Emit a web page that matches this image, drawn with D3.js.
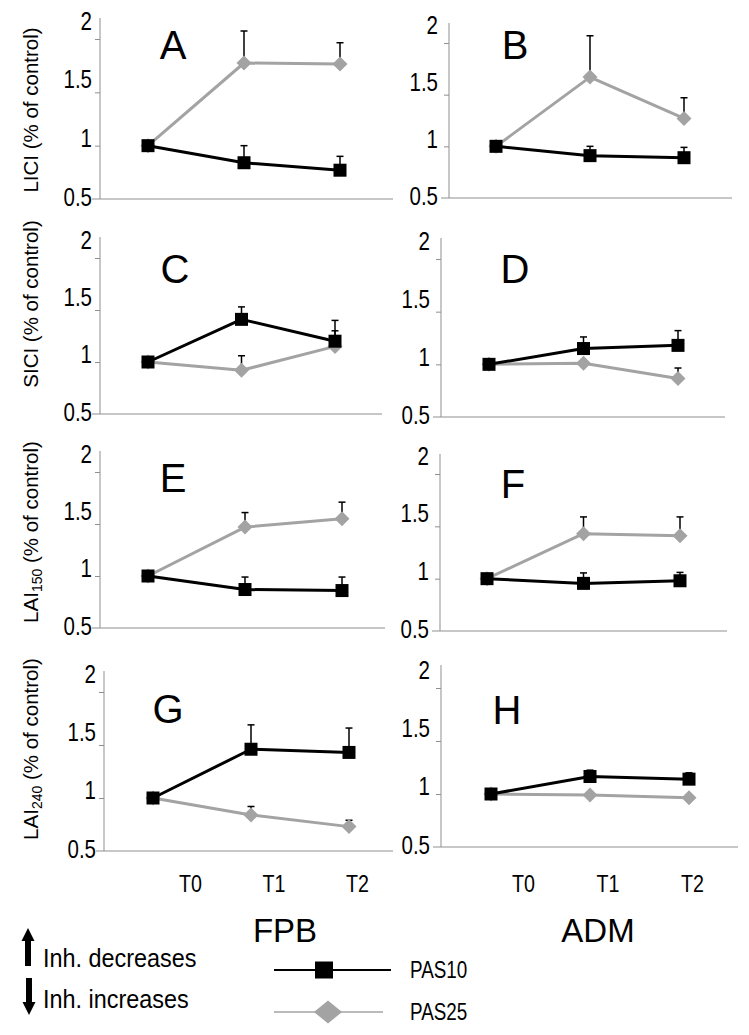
<!DOCTYPE html>
<html>
<head>
<meta charset="utf-8">
<script src="https://cdn.jsdelivr.net/npm/d3@7"></script>
<style>
  html, body { margin: 0; padding: 0; background: #fff; }
  svg { display: block; font-family: "Liberation Sans", Arial, sans-serif; }
</style>
</head>
<body>
<svg id="chart" width="749" height="1035"></svg>
<script>
// ---------------- DATA ----------------
const timepoints = ["T0", "T1", "T2"];
const panelLetters = ["A", "B", "C", "D", "E", "F", "G", "H"];
const yTickValues = [0.5, 1, 1.5, 2];
const yTickLabels = ["0.5", "1", "1.5", "2"];
const muscles = ["FPB", "ADM"];
const seriesNames = ["PAS10", "PAS25"];
const rowMeasures = ["LICI", "SICI", "LAI150", "LAI240"];

// PAS10 (black squares): means and SEM (upward error bars)
const pas10_A = [1.00, 0.84, 0.77];  const pas10_A_sem = [0.02, 0.16, 0.13];
const pas10_B = [1.00, 0.91, 0.89];  const pas10_B_sem = [0.02, 0.09, 0.10];
const pas10_C = [1.00, 1.41, 1.20];  const pas10_C_sem = [0.04, 0.12, 0.20];
const pas10_D = [1.00, 1.15, 1.18];  const pas10_D_sem = [0.03, 0.11, 0.14];
const pas10_E = [1.00, 0.87, 0.86];  const pas10_E_sem = [0.03, 0.12, 0.13];
const pas10_F = [1.00, 0.955, 0.98]; const pas10_F_sem = [0.02, 0.10, 0.08];
const pas10_G = [1.00, 1.46, 1.43];  const pas10_G_sem = [0.03, 0.23, 0.23];
const pas10_H = [1.00, 1.165, 1.14]; const pas10_H_sem = [0.03, 0.06, 0.06];

// PAS25 (grey diamonds)
const pas25_A = [1.00, 1.775, 1.765]; const pas25_A_sem = [0.02, 0.30, 0.20];
const pas25_B = [1.00, 1.67, 1.27];   const pas25_B_sem = [0.02, 0.40, 0.20];
const pas25_C = [1.00, 0.92, 1.15];   const pas25_C_sem = [0.03, 0.14, 0.15];
const pas25_D = [1.00, 1.01, 0.865];  const pas25_D_sem = [0.02, 0.02, 0.10];
const pas25_E = [1.00, 1.47, 1.55];   const pas25_E_sem = [0.02, 0.14, 0.16];
const pas25_F = [1.00, 1.43, 1.41];   const pas25_F_sem = [0.02, 0.16, 0.18];
const pas25_G = [1.00, 0.84, 0.73];   const pas25_G_sem = [0.02, 0.08, 0.06];
const pas25_H = [1.00, 0.99, 0.965];  const pas25_H_sem = [0.01, 0.02, 0.02];

const pas10 = { A: pas10_A, B: pas10_B, C: pas10_C, D: pas10_D, E: pas10_E, F: pas10_F, G: pas10_G, H: pas10_H };
const pas10Sem = { A: pas10_A_sem, B: pas10_B_sem, C: pas10_C_sem, D: pas10_D_sem, E: pas10_E_sem, F: pas10_F_sem, G: pas10_G_sem, H: pas10_H_sem };
const pas25 = { A: pas25_A, B: pas25_B, C: pas25_C, D: pas25_D, E: pas25_E, F: pas25_F, G: pas25_G, H: pas25_H };
const pas25Sem = { A: pas25_A_sem, B: pas25_B_sem, C: pas25_C_sem, D: pas25_D_sem, E: pas25_E_sem, F: pas25_F_sem, G: pas25_G_sem, H: pas25_H_sem };

// ---------------- LAYOUT ----------------
const layout = {
  A: { ax: 100, top: 18,  y2: 39,  y05: 199, xr: 393, p0: 148, p2: 340, lx: 173, ly: 59 },
  B: { ax: 449, top: 23,  y2: 43,  y05: 198, xr: 732, p0: 496, p2: 684, lx: 515, ly: 59 },
  C: { ax: 100, top: 237, y2: 258, y05: 414, xr: 382, p0: 148, p2: 335, lx: 175, ly: 283 },
  D: { ax: 441, top: 238, y2: 259, y05: 417, xr: 725, p0: 489, p2: 678, lx: 515, ly: 283 },
  E: { ax: 100, top: 451, y2: 472, y05: 628, xr: 385, p0: 148, p2: 342, lx: 173, ly: 492 },
  F: { ax: 440, top: 454, y2: 474, y05: 631, xr: 727, p0: 487, p2: 680, lx: 513, ly: 498 },
  G: { ax: 104, top: 671, y2: 692, y05: 851, xr: 393, p0: 153, p2: 349, lx: 168, ly: 723 },
  H: { ax: 441, top: 665, y2: 688, y05: 847, xr: 738, p0: 491, p2: 689, lx: 507, ly: 724 }
};
const GREY = "#a3a3a3";
const AXIS = "#8f8f8f";
const NARROW = 0.82;

const svg = d3.select("#chart");

function narrowText(parent, x, y, str, size, anchor, sx) {
  const g = parent.append("g").attr("transform", `translate(${x},${y}) scale(${sx},1)`);
  return g.append("text").attr("x", 0).attr("y", 0)
    .attr("font-size", size).attr("text-anchor", anchor || "start")
    .attr("fill", "#000").text(str);
}

panelLetters.forEach((id, i) => {
  const L = layout[id];
  const g = svg.append("g");
  const x = d3.scalePoint().domain(timepoints).range([L.p0, L.p2]);
  const y = d3.scaleLinear().domain([0.5, 2]).range([L.y05, L.y2]);
  const yLab = d3.scaleLinear().domain([0.5, 2]).range([L.y05 - 3, L.y2 - 19]);

  // y axis line
  g.append("line").attr("x1", L.ax).attr("x2", L.ax).attr("y1", L.top).attr("y2", L.y05)
    .attr("stroke", AXIS).attr("stroke-width", 1);
  // x axis line
  g.append("line").attr("x1", L.ax - 8).attr("x2", L.xr).attr("y1", L.y05).attr("y2", L.y05)
    .attr("stroke", AXIS).attr("stroke-width", 1);

  // tick marks
  const tickAxis = g.append("g").attr("transform", `translate(${L.ax},0)`)
    .call(d3.axisLeft(y).tickValues([1, 1.5, 2]).tickSize(5).tickFormat(""));
  tickAxis.select(".domain").remove();
  tickAxis.selectAll("line").attr("stroke", AXIS);

  // tick labels
  const off = (i % 2 === 0) ? 8 : 11;
  const labAxis = g.append("g").attr("transform", `translate(${L.ax},0)`)
    .call(d3.axisLeft(yLab).tickValues(yTickValues).tickSize(0)
      .tickFormat((d) => yTickLabels[yTickValues.indexOf(d)]));
  labAxis.select(".domain").remove();
  labAxis.attr("font-family", null).attr("font-size", null);
  labAxis.selectAll("text")
    .attr("font-size", 25)
    .attr("fill", "#000")
    .attr("x", -off / NARROW)
    .attr("dy", "0.36em")
    .attr("transform", `scale(${NARROW},1)`);

  // panel letter
  g.append("text").attr("x", L.lx).attr("y", L.ly).attr("text-anchor", "middle")
    .attr("font-size", 40).attr("fill", "#000").text(id);

  const line = d3.line().x((d, k) => x(timepoints[k])).y((d) => y(d));

  function drawSeries(vals, sems, color, marker) {
    g.append("path").datum(vals).attr("d", line).attr("fill", "none")
      .attr("stroke", color).attr("stroke-width", 3).attr("stroke-linejoin", "round");
    // error bars (upward)
    vals.forEach((v, k) => {
      const cx = x(timepoints[k]);
      const yt = y(v + sems[k]);
      g.append("line").attr("x1", cx).attr("x2", cx).attr("y1", y(v)).attr("y2", yt)
        .attr("stroke", "#000").attr("stroke-width", 1.5);
      g.append("line").attr("x1", cx - 3.5).attr("x2", cx + 3.5).attr("y1", yt).attr("y2", yt)
        .attr("stroke", "#000").attr("stroke-width", 1.5);
    });
    vals.forEach((v, k) => {
      const cx = x(timepoints[k]);
      const cy = y(v);
      if (marker === "square") {
        g.append("rect").attr("x", cx - 6.5).attr("y", cy - 6.5).attr("width", 13).attr("height", 13)
          .attr("fill", "#000");
      } else {
        g.append("path").attr("d", `M${cx},${cy - 7.5}L${cx + 7.5},${cy}L${cx},${cy + 7.5}L${cx - 7.5},${cy}Z`)
          .attr("fill", color);
      }
    });
  }
  drawSeries(pas25[id], pas25Sem[id], GREY, "diamond");
  drawSeries(pas10[id], pas10Sem[id], "#000", "square");
});

// y-axis titles
const titleY = [110, 304, 532, 749];
rowMeasures.forEach((m, r) => {
  const t = svg.append("text")
    .attr("transform", `translate(38,${titleY[r]}) rotate(-90)`)
    .attr("text-anchor", "middle").attr("font-size", 20.5).attr("fill", "#000");
  if (m.startsWith("LAI")) {
    t.append("tspan").text("LAI");
    t.append("tspan").attr("font-size", 14).attr("dy", 4).text(m.slice(3));
    t.append("tspan").attr("dy", -4).text(" (% of control)");
  } else {
    t.text(m + " (% of control)");
  }
});

// bottom time labels (drawn with their own point scales)
const tFPB = d3.scalePoint().domain(timepoints).range([190, 357]);
const tADM = d3.scalePoint().domain(timepoints).range([523, 692]);
[tFPB, tADM].forEach((sc) => {
  const a = svg.append("g").attr("transform", "translate(0,875)")
    .call(d3.axisBottom(sc).tickSize(0).tickPadding(0));
  a.select(".domain").remove();
  a.attr("font-family", null).attr("font-size", null);
  a.selectAll("text").attr("font-size", 24).attr("fill", "#000")
    .attr("dy", "0.72em")
    .attr("transform", `scale(${NARROW},1)`);
});

// muscle labels
const muscleX = [285, 598];
muscles.forEach((m, i) => {
  svg.append("text").attr("x", muscleX[i]).attr("y", 942).attr("text-anchor", "middle")
    .attr("font-size", 33).attr("fill", "#000").text(m);
});

// arrows
function arrow(x, yTip, yTail) {
  const dir = yTail > yTip ? 1 : -1;
  svg.append("line").attr("x1", x).attr("x2", x).attr("y1", yTip + dir * 10).attr("y2", yTail)
    .attr("stroke", "#000").attr("stroke-width", 6);
  svg.append("path").attr("d", `M${x},${yTip}L${x + 6.5},${yTip + dir * 13}L${x - 6.5},${yTip + dir * 13}Z`)
    .attr("fill", "#000");
}
arrow(28, 928, 966);
arrow(29, 1015, 978);
narrowText(svg, 43, 967, "Inh. decreases", 26, "start", 0.9);
narrowText(svg, 43, 1008, "Inh. increases", 26, "start", 0.9);

// legend
svg.append("line").attr("x1", 274).attr("x2", 391).attr("y1", 970).attr("y2", 970)
  .attr("stroke", "#000").attr("stroke-width", 2);
svg.append("rect").attr("x", 315).attr("y", 961.5).attr("width", 18).attr("height", 17).attr("fill", "#000");
svg.append("line").attr("x1", 274).attr("x2", 383).attr("y1", 1012).attr("y2", 1012)
  .attr("stroke", GREY).attr("stroke-width", 1.5);
svg.append("path").attr("d", "M328,1000.5L342,1012L328,1023.5L314,1012Z").attr("fill", GREY);
narrowText(svg, 410, 978, seriesNames[0], 23, "start", NARROW);
narrowText(svg, 410, 1020, seriesNames[1], 23, "start", NARROW);
</script>
</body>
</html>
